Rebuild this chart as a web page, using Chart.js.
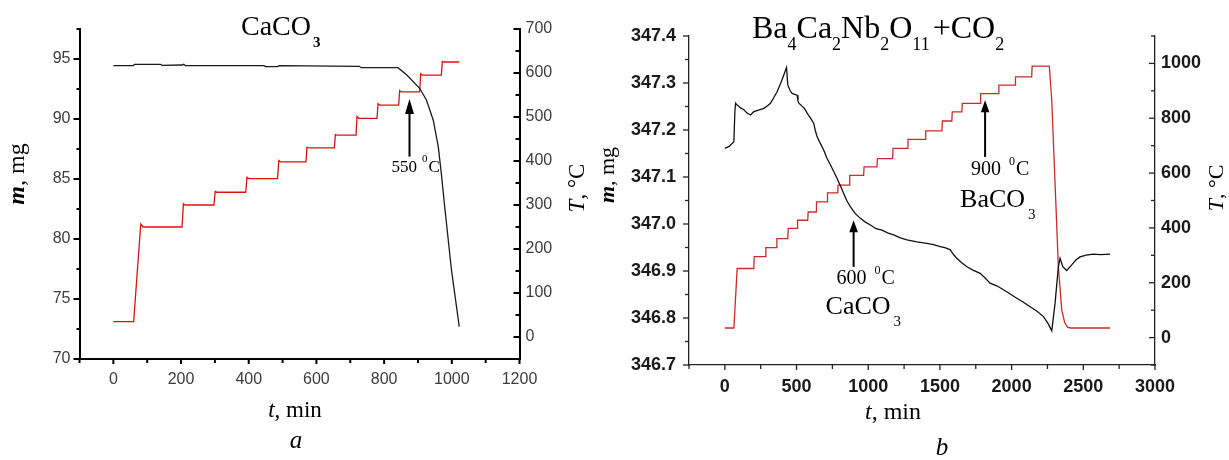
<!DOCTYPE html>
<html>
<head>
<meta charset="utf-8">
<script src="https://cdn.jsdelivr.net/npm/chart.js@4.4.0/dist/chart.umd.min.js"></script>
<style>
  html, body { margin: 0; padding: 0; background: #fff; }
  body { width: 1229px; height: 460px; position: relative; overflow: hidden; }
  canvas { position: absolute; top: 0; }
  #cA { left: 0; }
  #cB { left: 598px; }
</style>
</head>
<body>
<canvas id="cA" width="598" height="460"></canvas>
<canvas id="cB" width="631" height="460"></canvas>
<script>
/* Datos (a) CaCO3 */
const tiempoMA = [0, 59, 62, 139, 144, 203, 208, 213, 445, 450, 485, 490, 727, 732, 841, 867, 905, 925, 945, 960, 969, 979, 999, 1022];
const masaA = [94.44, 94.44, 94.56, 94.56, 94.47, 94.5, 94.56, 94.44, 94.44, 94.36, 94.36, 94.44, 94.39, 94.28, 94.28, 93.67, 92.56, 91.58, 89.92, 87.69, 85.47, 82.69, 77.42, 72.69];

const tiempoTA = [0, 60, 81, 88, 203, 207, 212, 297, 301, 306, 391, 395, 400, 485, 489, 494, 569, 572, 577, 653, 656, 661, 717, 720, 725, 779, 782, 787, 843, 846, 851, 905, 908, 913, 969, 972, 977, 1022];
const tempA = [35, 35, 257, 250, 250, 303, 300, 300, 331, 329, 329, 363, 360, 360, 401, 398, 398, 431, 430, 430, 460, 459, 459, 501, 497, 497, 530, 527, 527, 560, 557, 557, 598, 595, 595, 626, 625, 625];

/* Datos (b) Ba4Ca2Nb2O11 + CO2 */
const tiempoMB = [0, 30, 63, 70, 75, 86, 110, 133, 155, 179,
    202, 240, 272, 300, 318, 340, 365, 390, 411, 430,
    439, 455, 469, 504, 510, 516, 555, 574, 600, 620,
    630, 643, 665, 690, 712, 736, 760, 783, 805, 829,
    850, 875, 910, 945, 980, 1015, 1055, 1096, 1135, 1177,
    1220, 1270, 1340, 1409, 1455, 1502, 1540, 1572, 1595, 1618,
    1650, 1688, 1730, 1781, 1815, 1850, 1900, 1943, 1990, 2036,
    2080, 2129, 2175, 2222, 2255, 2280, 2303, 2326, 2338, 2357,
    2384, 2419, 2450, 2477, 2520, 2570, 2620, 2686];
const masaB = [347.161, 347.165, 347.175, 347.24, 347.257, 347.253, 347.247, 347.243, 347.236, 347.232,
    347.239, 347.243, 347.246, 347.252, 347.257, 347.268, 347.282, 347.3, 347.317, 347.333,
    347.296, 347.284, 347.278, 347.274, 347.262, 347.257, 347.246, 347.236, 347.224, 347.214,
    347.2, 347.186, 347.172, 347.157, 347.14, 347.126, 347.111, 347.097, 347.082, 347.065,
    347.05, 347.037, 347.022, 347.012, 347.004, 346.998, 346.99, 346.987, 346.981, 346.977,
    346.971, 346.966, 346.962, 346.959, 346.956, 346.952, 346.949, 346.945, 346.935, 346.927,
    346.918, 346.909, 346.902, 346.895, 346.885, 346.874, 346.868, 346.86, 346.851, 346.842,
    346.834, 346.824, 346.815, 346.803, 346.788, 346.773, 346.831, 346.909, 346.927, 346.909,
    346.901, 346.913, 346.924, 346.93, 346.934, 346.936, 346.935, 346.936];

const tiempoTB = [0, 63, 86, 202, 205, 283, 286, 360, 363, 439, 442, 504, 507, 578, 581, 636, 639, 713, 716, 787, 790,
    868, 871, 968, 971, 1061, 1064, 1170, 1173, 1274, 1277, 1398, 1401, 1514, 1517, 1583, 1586, 1653, 1656,
    1781, 1784, 1908, 1911, 2024, 2027, 2140, 2143, 2263, 2280, 2303, 2326, 2350, 2370, 2390, 2410, 2686];
const tempB = [35, 35, 252, 252, 295, 295, 328, 328, 361, 361, 398, 398, 428, 428, 458, 458, 495, 495, 528, 528, 556,
    556, 592, 592, 623, 623, 653, 653, 690, 690, 723, 723, 754, 754, 790, 790, 823, 823, 854,
    854, 890, 890, 921, 921, 951, 951, 990, 990, 866, 562, 258, 100, 55, 38, 35, 35];

/* Flechas: [t, T base, T punta] */
const flechaA = [875, 410, 541];
const flecha1B = [898, 258, 428];
const flecha2B = [1815, 659, 866];

const SERIF = '"Liberation Serif", "Times New Roman", serif';
const SANS = '"Liberation Sans", Arial, sans-serif';

function puntos(xs, ys) {
    return xs.map((x, i) => ({ x: x, y: ys[i] }));
}

/* texto con subindices: [texto, fuente, dy, dx] */
function textoRico(ctx, x, y, partes, centro) {
    let total = 0;
    partes.forEach(p => {
        ctx.font = p[1];
        total += ctx.measureText(p[0]).width + (p[3] || 0);
    });
    let cx = centro ? x - total / 2 : x;
    partes.forEach(p => {
        ctx.font = p[1];
        cx += p[3] || 0;
        ctx.fillText(p[0], cx, y + (p[2] || 0));
        cx += ctx.measureText(p[0]).width;
    });
}

function textoVertical(ctx, x, y, partes) {
    ctx.save();
    ctx.translate(x, y);
    ctx.rotate(-Math.PI / 2);
    textoRico(ctx, 0, 0, partes, true);
    ctx.restore();
}

function flecha(ctx, x, yBase, yPunta, largo, ancho) {
    ctx.beginPath();
    ctx.moveTo(x, yBase);
    ctx.lineTo(x, yPunta + largo - 1);
    ctx.lineWidth = 2;
    ctx.strokeStyle = "#000";
    ctx.stroke();
    ctx.beginPath();
    ctx.moveTo(x, yPunta);
    ctx.lineTo(x - ancho, yPunta + largo);
    ctx.lineTo(x + ancho, yPunta + largo);
    ctx.closePath();
    ctx.fill();
}

/* marcas de los ejes */
function marcas(chart, conf, color, grosor) {
    const ctx = chart.ctx;
    ctx.save();
    ctx.strokeStyle = color;
    ctx.lineWidth = grosor;
    Object.keys(conf).forEach(id => {
        const s = chart.scales[id];
        const c = conf[id];
        s.ticks.forEach(t => {
            const p = s.getPixelForValue(t.value);
            const len = t.label !== "" ? c.mayor : c.menor;
            ctx.beginPath();
            if (c.lado === "abajo") {
                ctx.moveTo(p, s.top);
                ctx.lineTo(p, s.top + len);
            } else if (c.lado === "izq") {
                ctx.moveTo(s.right, p);
                ctx.lineTo(s.right - len, p);
            } else {
                ctx.moveTo(s.left, p);
                ctx.lineTo(s.left - len, p);
            }
            ctx.stroke();
        });
    });
    ctx.restore();
}

function ancho(w) {
    return function (s) { s.width = w; };
}
function alto(h) {
    return function (s) { s.height = h; };
}

/* Grafica a */
const decorA = {
    id: "decorA",
    afterDraw(chart) {
        const ctx = chart.ctx;
        marcas(chart, {
            x: { lado: "abajo", mayor: 5, menor: 4 },
            y: { lado: "izq", mayor: 6, menor: 3 },
            y1: { lado: "der", mayor: 6, menor: 4 }
        }, "#000", 2);
        ctx.save();
        ctx.fillStyle = "#000";
        ctx.textAlign = "left";
        ctx.textBaseline = "alphabetic";
        textoRico(ctx, 241, 35, [["CaCO", "28px " + SERIF], ["3", "bold 15px " + SERIF, 12, 2]], false);
        textoVertical(ctx, 24, 174, [["m", "bold italic 24px " + SERIF], [", mg", "24px " + SERIF]]);
        textoVertical(ctx, 584, 188, [["T", "italic 23px " + SERIF], [", °C", "23px " + SERIF]]);
        textoRico(ctx, 295, 417, [["t", "italic 23px " + SERIF], [", min", "23px " + SERIF]], true);
        textoRico(ctx, 296, 448, [["a", "italic 25px " + SERIF]], true);

        const ax = chart.scales.x.getPixelForValue(flechaA[0]);
        const yb = chart.scales.y1.getPixelForValue(flechaA[1]);
        const yp = chart.scales.y1.getPixelForValue(flechaA[2]);
        flecha(ctx, ax, yb, yp, 15, 4.5);
        textoRico(ctx, ax - 18, yb + 15, [["550", "17px " + SERIF], ["0", "11px " + SERIF, -10, 5], ["C", "17px " + SERIF, 0, 1]], false);
        ctx.restore();
    }
};

new Chart(document.getElementById("cA"), {
    type: "line",
    data: {
        datasets: [{
            data: puntos(tiempoMA, masaA),
            yAxisID: "y",
            borderColor: "#1a1a1a",
            borderWidth: 1.3,
            pointRadius: 0,
            fill: false
        }, {
            data: puntos(tiempoTA, tempA),
            yAxisID: "y1",
            borderColor: "#dd1111",
            borderWidth: 1.3,
            pointRadius: 0,
            fill: false
        }]
    },
    options: {
        responsive: false,
        animation: false,
        devicePixelRatio: 1,
        layout: { padding: { top: 29, left: 0, right: 0, bottom: 0 } },
        plugins: { legend: { display: false }, tooltip: { enabled: false } },
        scales: {
            x: {
                type: "linear", min: -100, max: 1200,
                grid: { display: false, drawTicks: false },
                border: { display: true, color: "#000", width: 2 },
                ticks: {
                    stepSize: 100, autoSkip: false, maxRotation: 0, padding: 11,
                    color: "#3c3c3c", font: { family: SANS, size: 16 },
                    callback: v => (v >= 0 && v % 200 === 0) ? String(v) : ""
                },
                afterFit: alto(101)
            },
            y: {
                type: "linear", position: "left", min: 70, max: 97.5,
                grid: { display: false, drawTicks: false },
                border: { display: true, color: "#000", width: 2 },
                ticks: {
                    stepSize: 2.5, autoSkip: false, padding: 9,
                    color: "#3c3c3c", font: { family: SANS, size: 16 },
                    callback: v => (v % 5 === 0 && v <= 95) ? String(v) : ""
                },
                afterFit: ancho(79.5)
            },
            y1: {
                type: "linear", position: "right", min: -50, max: 700,
                grid: { display: false, drawTicks: false },
                border: { display: true, color: "#000", width: 2 },
                ticks: {
                    stepSize: 50, autoSkip: false, padding: 6,
                    color: "#3c3c3c", font: { family: SANS, size: 16 },
                    callback: v => (v >= 0 && v % 100 === 0) ? String(v) : ""
                },
                afterFit: ancho(78.5)
            }
        }
    },
    plugins: [decorA]
});

/* Grafica b */
const decorB = {
    id: "decorB",
    afterDraw(chart) {
        const ctx = chart.ctx;
        marcas(chart, {
            x: { lado: "abajo", mayor: 5, menor: 4 },
            y: { lado: "izq", mayor: 6, menor: 4 },
            y1: { lado: "der", mayor: 6, menor: 4 }
        }, "#222", 1.3);
        ctx.save();
        ctx.fillStyle = "#000";
        ctx.textAlign = "left";
        ctx.textBaseline = "alphabetic";
        const f = "32px " + SERIF, s = "18px " + SERIF;
        textoRico(ctx, 154, 38, [["Ba", f], ["4", s, 12], ["Ca", f], ["2", s, 12], ["Nb", f], ["2", s, 12],
            ["O", f], ["11", s, 12], ["+CO", f, 0, 3], ["2", s, 12]], false);
        textoVertical(ctx, 16, 175, [["m", "bold italic 22px " + SERIF], [", mg", "22px " + SERIF]]);
        textoVertical(ctx, 625, 188, [["T", "italic 22px " + SERIF], [", °C", "22px " + SERIF]]);
        textoRico(ctx, 295, 419, [["t", "italic 24px " + SERIF], [", min", "24px " + SERIF]], true);
        textoRico(ctx, 344, 455, [["b", "italic 25px " + SERIF]], true);

        const sx = chart.scales.x, sy = chart.scales.y1;
        let ax = sx.getPixelForValue(flecha1B[0]);
        let yb = sy.getPixelForValue(flecha1B[1]);
        let yp = sy.getPixelForValue(flecha1B[2]);
        flecha(ctx, ax, yb, yp, 12, 4.3);
        textoRico(ctx, ax - 17, yb + 17, [["600", "20px " + SERIF], ["0", "12px " + SERIF, -10, 8], ["C", "20px " + SERIF, 0, 1]], false);
        textoRico(ctx, ax - 28, yb + 47, [["CaCO", "26px " + SERIF], ["3", "15px " + SERIF, 12, 3]], false);

        ax = sx.getPixelForValue(flecha2B[0]);
        yb = sy.getPixelForValue(flecha2B[1]);
        yp = sy.getPixelForValue(flecha2B[2]);
        flecha(ctx, ax, yb, yp, 12, 4.3);
        textoRico(ctx, ax - 14, yb + 18, [["900", "20px " + SERIF], ["0", "12px " + SERIF, -10, 8], ["C", "20px " + SERIF, 0, 1]], false);
        textoRico(ctx, ax - 25, yb + 50, [["BaCO", "26px " + SERIF], ["3", "15px " + SERIF, 12, 3]], false);
        ctx.restore();
    }
};

new Chart(document.getElementById("cB"), {
    type: "line",
    data: {
        datasets: [{
            data: puntos(tiempoMB, masaB),
            yAxisID: "y",
            borderColor: "#111",
            borderWidth: 1.3,
            pointRadius: 0,
            fill: false
        }, {
            data: puntos(tiempoTB, tempB),
            yAxisID: "y1",
            borderColor: "#cc2b2b",
            borderWidth: 1.3,
            pointRadius: 0,
            fill: false
        }]
    },
    options: {
        responsive: false,
        animation: false,
        devicePixelRatio: 1,
        layout: { padding: { top: 36, left: 0, right: 0, bottom: 0 } },
        plugins: { legend: { display: false }, tooltip: { enabled: false } },
        scales: {
            x: {
                type: "linear", min: -250, max: 3000,
                grid: { display: false, drawTicks: false },
                border: { display: true, color: "#222", width: 1.3 },
                ticks: {
                    stepSize: 250, autoSkip: false, maxRotation: 0, padding: 11,
                    color: "#1a1a1a", font: { family: SANS, size: 18, weight: "bold" },
                    callback: v => (v >= 0 && v % 500 === 0) ? String(v) : ""
                },
                afterFit: alto(95)
            },
            y: {
                type: "linear", position: "left", min: 346.7, max: 347.4,
                grid: { display: false, drawTicks: false },
                border: { display: true, color: "#222", width: 1.3 },
                ticks: {
                    stepSize: 0.05, autoSkip: false, padding: 13,
                    color: "#1a1a1a", font: { family: SANS, size: 18, weight: "bold" },
                    callback: v => Math.abs(v * 10 - Math.round(v * 10)) < 1e-6 ? v.toFixed(1) : ""
                },
                afterFit: ancho(91)
            },
            y1: {
                type: "linear", position: "right", min: -100, max: 1100,
                grid: { display: false, drawTicks: false },
                border: { display: true, color: "#222", width: 1.3 },
                ticks: {
                    stepSize: 100, autoSkip: false, padding: 6,
                    color: "#1a1a1a", font: { family: SANS, size: 18, weight: "bold" },
                    callback: v => (v >= 0 && v <= 1000 && v % 200 === 0) ? String(v) : ""
                },
                afterFit: ancho(74)
            }
        }
    },
    plugins: [decorB]
});
</script>
</body>
</html>
